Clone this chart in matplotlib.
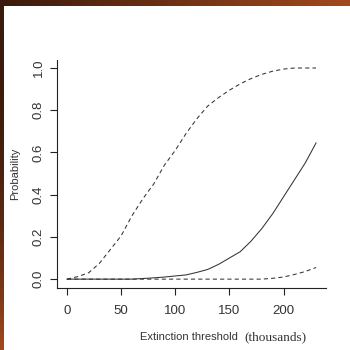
import numpy as np
import matplotlib
matplotlib.use("Agg")
import matplotlib.pyplot as plt
from matplotlib.colors import LinearSegmentedColormap

# threshold values (thousands)
threshold = [0, 10, 20, 30, 40, 50, 60, 70, 80, 90, 100, 110,
             120, 130, 140, 150, 160, 170, 180, 190, 200, 210, 220, 230]

# upper bound (dashed)
upper = [0, 0.012, 0.03, 0.075, 0.14, 0.205, 0.30, 0.38, 0.45, 0.54, 0.61, 0.69,
         0.76, 0.82, 0.86, 0.895, 0.925, 0.95, 0.97, 0.985, 0.995, 1.0, 1.0, 1.0]

# estimate (solid)
estimate = [0, 0, 0, 0, 0, 0, 0, 0.003, 0.006, 0.01, 0.015, 0.02,
            0.032, 0.046, 0.07, 0.10, 0.13, 0.18, 0.24, 0.31, 0.39, 0.47, 0.55, 0.645]

# lower bound (dashed)
lower = [0, 0, 0, 0, 0, 0, 0, 0, 0, 0, 0, 0,
         0, 0, 0, 0, 0, 0, 0, 0.004, 0.01, 0.022, 0.036, 0.055]

xticks = [0, 50, 100, 150, 200]
yticks = [0.0, 0.2, 0.4, 0.6, 0.8, 1.0]
ytick_labels = ["0.0", "0.2", "0.4", "0.6", "0.8", "1.0"]


def main():
    fig = plt.figure(figsize=(3.5, 3.5), dpi=100)
    fig.patch.set_facecolor("white")

    # slide background strips (top and left)
    bg = fig.add_axes([0, 0, 1, 1], zorder=-10)
    bg.axis("off")
    top_grad = np.linspace(0, 1, 256).reshape(1, -1)
    left_grad = np.linspace(0, 1, 256).reshape(-1, 1) ** 2.5
    brown = LinearSegmentedColormap.from_list("brown", ["#3a1a0b", "#a3491d"])
    bg.imshow(top_grad, cmap=brown, extent=[0, 350, 6, 0], aspect="auto")
    bg.imshow(left_grad, cmap=brown, extent=[0, 4, 350, 0], aspect="auto")
    bg.set_xlim(0, 350)
    bg.set_ylim(350, 0)

    ax = fig.add_axes([57 / 350, 62 / 350, 269 / 350, 228 / 350])
    ax.set_facecolor("none")

    line_col = "#333333"
    ax.plot(threshold, upper, color=line_col, lw=0.75, dashes=(4, 3))
    ax.plot(threshold, estimate, color=line_col, lw=0.75)
    ax.plot(threshold, lower, color=line_col, lw=0.75, dashes=(4, 3))

    ax.set_xlim(-9.2, 239.2)
    ax.set_ylim(-0.042, 1.038)

    for side in ["top", "right"]:
        ax.spines[side].set_visible(False)
    for side in ["left", "bottom"]:
        ax.spines[side].set_linewidth(0.8)
        ax.spines[side].set_color("#222222")

    ax.set_xticks(xticks)
    ax.set_yticks(yticks)
    ax.set_yticklabels(ytick_labels, rotation=90, va="center")
    ax.tick_params(direction="out", length=5, width=0.8, colors="#222222",
                   labelsize=9.5, labelcolor="#333333")
    ax.tick_params(axis="x", pad=7)
    ax.tick_params(axis="y", pad=4)
    for lab in ax.get_xticklabels() + ax.get_yticklabels():
        lab.set_family("Liberation Sans")

    fig.text(15 / 350, 1 - 174 / 350, "Probability", rotation=90,
             ha="center", va="center", fontsize=8, color="#333333",
             family="Liberation Sans")
    fig.text(238 / 350, 1 - 337 / 350, "Extinction threshold", ha="right",
             va="center", fontsize=8, color="#333333", family="Liberation Sans")
    fig.text(244 / 350, 1 - 337 / 350, "(thousands)", ha="left",
             va="center", fontsize=9.5, color="#333333", family="Liberation Serif")

    fig.savefig("out.png", dpi=100)
    plt.close(fig)


if __name__ == "__main__":
    main()
